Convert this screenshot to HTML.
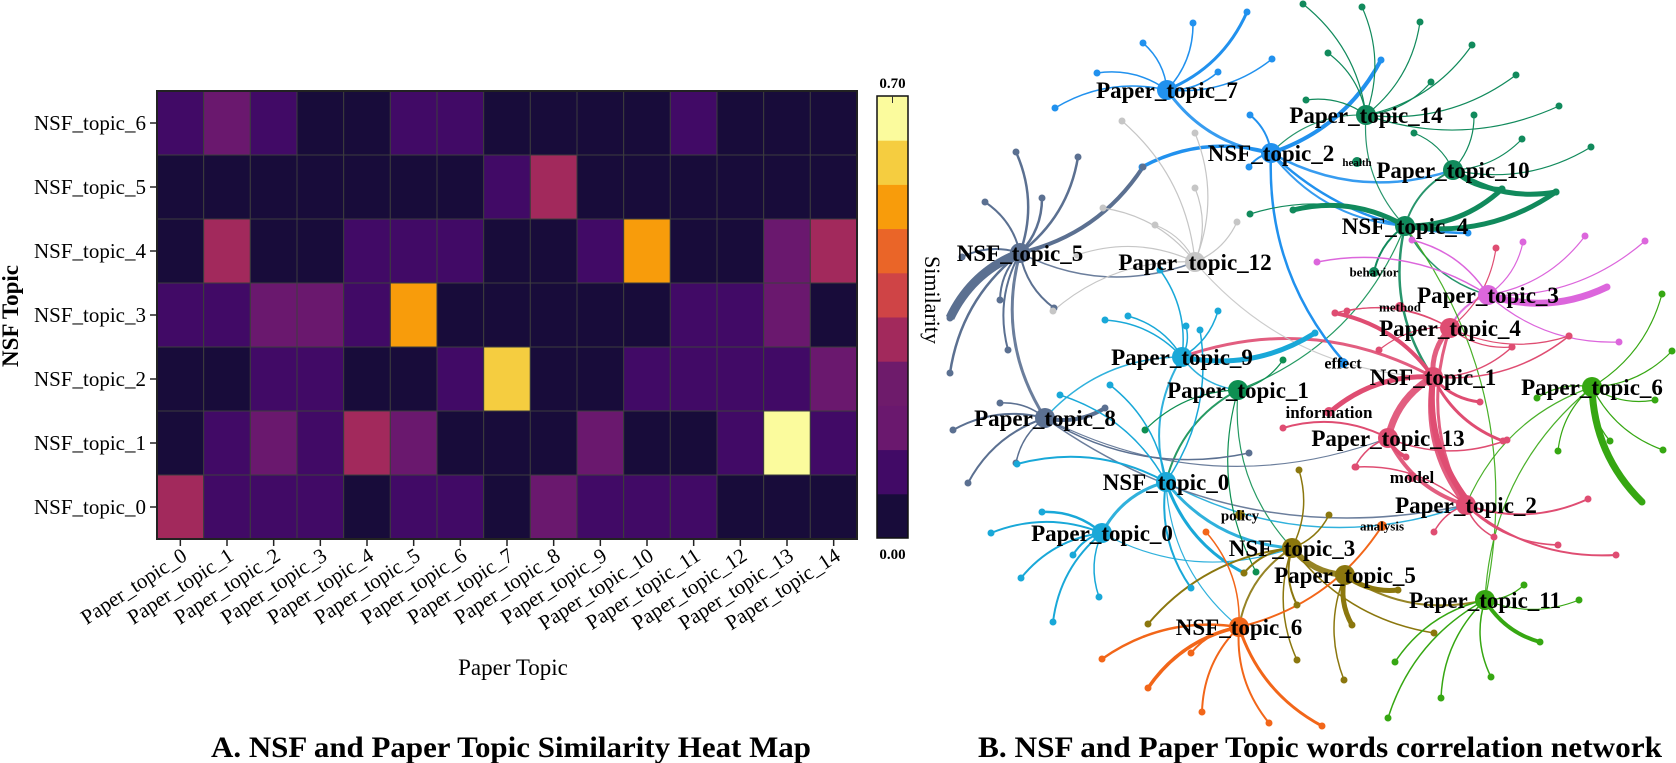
<!DOCTYPE html>
<html><head><meta charset="utf-8"><title>NSF and Paper Topic charts</title>
<style>
html,body{margin:0;padding:0;background:#fff;}
svg{display:block;font-family:"Liberation Serif","Times New Roman",serif;}
</style></head>
<body>
<svg id="fig" width="1676" height="763" viewBox="0 0 1676 763" xmlns="http://www.w3.org/2000/svg">
<g id="heat"></g>
<g id="net"></g>
<text x="511" y="757" text-anchor="middle" font-weight="bold" font-size="30" textLength="600" lengthAdjust="spacingAndGlyphs">A. NSF and Paper Topic Similarity Heat Map</text>
<text x="1320" y="757" text-anchor="middle" font-weight="bold" font-size="30" textLength="684" lengthAdjust="spacingAndGlyphs">B. NSF and Paper Topic words correlation network</text>
</svg>
<script>
// ---------- heatmap data ----------
const paperTopics = ["Paper_topic_0","Paper_topic_1","Paper_topic_2","Paper_topic_3","Paper_topic_4","Paper_topic_5","Paper_topic_6","Paper_topic_7","Paper_topic_8","Paper_topic_9","Paper_topic_10","Paper_topic_11","Paper_topic_12","Paper_topic_13","Paper_topic_14"];
const nsfTopics = ["NSF_topic_0","NSF_topic_1","NSF_topic_2","NSF_topic_3","NSF_topic_4","NSF_topic_5","NSF_topic_6"];
const simNSF0 = [0.32,0.11,0.11,0.11,0.03,0.11,0.11,0.03,0.20,0.11,0.11,0.11,0.03,0.03,0.03];
const simNSF1 = [0.03,0.11,0.20,0.11,0.32,0.20,0.03,0.03,0.03,0.20,0.03,0.03,0.11,0.67,0.11];
const simNSF2 = [0.03,0.03,0.11,0.11,0.03,0.03,0.11,0.60,0.03,0.03,0.11,0.11,0.11,0.11,0.20];
const simNSF3 = [0.11,0.11,0.20,0.20,0.11,0.53,0.03,0.03,0.03,0.03,0.03,0.11,0.11,0.20,0.03];
const simNSF4 = [0.03,0.32,0.03,0.03,0.11,0.11,0.11,0.03,0.03,0.11,0.53,0.03,0.03,0.20,0.32];
const simNSF5 = [0.03,0.03,0.03,0.03,0.03,0.03,0.03,0.11,0.32,0.03,0.03,0.03,0.03,0.03,0.03];
const simNSF6 = [0.11,0.20,0.11,0.03,0.03,0.11,0.11,0.03,0.03,0.03,0.03,0.11,0.03,0.03,0.03];
const simRows = [simNSF0,simNSF1,simNSF2,simNSF3,simNSF4,simNSF5,simNSF6];
const cbarTicks = ["0.00","0.70"];

// ---------- network data ----------
const hubNames = ["Paper_topic_7","NSF_topic_2","Paper_topic_14","Paper_topic_10","NSF_topic_4","NSF_topic_5","Paper_topic_12","Paper_topic_3","Paper_topic_4","Paper_topic_9","NSF_topic_1","Paper_topic_6","Paper_topic_1","Paper_topic_8","Paper_topic_13","NSF_topic_0","Paper_topic_2","Paper_topic_0","NSF_topic_3","Paper_topic_5","Paper_topic_11","NSF_topic_6"];
const hubX = [1167,1271,1366,1453,1405,1020,1195,1488,1450,1182,1433,1592,1238,1045,1388,1166,1466,1102,1292,1345,1485,1239];
const hubY = [90,153,115,170,226,253,262,295,328,357,377,387,390,418,438,482,505,533,548,575,600,627];
const hubGroup = [0,0,1,1,1,2,3,4,5,6,5,7,8,2,5,6,5,6,9,9,7,10];
const wordNames = ["health","behavior","method","effect","information","model","policy","analysis"];
const wordX = [1357,1374,1400,1343,1329,1412,1240,1382];
const wordY = [162,272,307,363,412,477,515,526];
const wordSize = [11,13,13,16,17,17,15,13];
const wordGroup = [1,1,5,0,5,5,9,10];
// leaves: hub index, end x, end y, width
const leafHub = [0,0,0,0,0,0,0, 1,1,1,1,1,1, 2,2,2,2,2,2,2,2,2, 3,3,3,3,3,3, 4,4,4,4,4, 5,5,5,5,5,5,5,5,5,5,5, 6,6,6,6,6,6,6,6, 7,7,7,7,7,7,7, 8,8,8,8,8,8, 10,10,10,10,10,10,10, 11,11,11,11,11,11,11,11, 9,9,9,9,9,9, 12,12,12, 13,13,13,13,13,13, 14,14,14,14, 15,15,15,15,15,15, 16,16,16,16,16,16, 17,17,17,17,17,17, 18,18,18,18,18,18,18, 19,19,19, 20,20,20,20,20,20,20, 21,21,21,21,21,21,21,21];
const leafX = [1247,1193,1143,1097,1055,1272,1218, 1381,1250,1249,1142,1468,1345, 1303,1362,1420,1328,1472,1431,1516,1559,1306, 1591,1522,1556,1502,1414,1474, 1293,1502,1556,1374,1250, 1016,1078,1042,985,962,950,950,1000,1008,1054,1143, 1122,1195,1103,1155,1195,1237,1077,1053, 1607,1645,1585,1619,1523,1317,1412, 1335,1512,1569,1379,1347,1496, 1480,1503,1335,1330,1467,1569,1512, 1662,1672,1655,1663,1610,1642,1537,1558, 1315,1218,1128,1186,1160,1105, 1256,1283,1145, 953,968,1016,1105,1000,1249, 1406,1283,1507,1355, 1244,1191,1017,1060,1110,1200, 1588,1616,1558,1494,1434,1356, 991,1021,1053,1099,1042,1073, 1148,1244,1297,1297,1329,1299,1434, 1398,1352,1344, 1540,1579,1524,1395,1388,1441,1491, 1102,1148,1202,1269,1322,1191,1206,1382];
const leafY = [12,23,43,73,108,59,72, 60,115,167,167,233,363, 4,7,22,53,45,82,75,106,100, 147,139,192,189,133,115, 210,189,192,272,214, 152,157,198,202,257,318,373,300,350,308,167, 121,133,208,225,188,222,255,311, 287,241,236,342,242,262,240, 313,347,336,350,311,248, 402,441,313,412,500,336,347, 294,351,400,450,441,502,398,451, 333,311,316,326,270,320, 572,360,430, 430,483,463,408,403,453, 457,428,440,467, 573,588,464,395,385,330, 499,555,545,537,532,467, 533,578,622,597,512,555, 624,573,605,660,515,470,633, 590,625,680, 642,600,585,662,718,698,677, 659,688,712,723,726,653,532,526];
const leafW = [3,1.5,1.5,1.5,1.5,1.5,1.5, 4,2,2,3.5,2.5,2.5, 1.2,1.2,1.2,1.2,1.2,1.2,1.2,1.2,1.2, 1.2,1.2,5,4,1.2,1.2, 5,5,5,2,1.2, 2.5,2.5,2.5,2,2,9,2.5,2,2,2,4, 1.2,1.2,1.2,1.2,1.2,1.2,1.2,1.2, 7,1.2,1.2,1.2,1.2,1.5,1.5, 1.2,1.2,1.2,1.2,1.2,1.2, 3,3,4,5,6,1.5,1.5, 1.2,1.2,1.2,1.2,1.2,7,1.2,1.2, 5,1.5,1.5,1.5,1.5,1.5, 1.2,1.2,1.2, 2,2,1.5,4,1.5,1.5, 4,2,1.5,1.5, 3,2,2,1.5,1.5,1.5, 2,2,1.5,1.5,1.5,1.5, 2,2,2,1.5,2.5,2, 2,2,2,1.5,1.5,1.5,1.5, 5,5,1.5, 4,1.2,1.2,1.5,1.5,1.5,1.5, 2.5,3.5,2,2,3,2,1.5,2];
// hub-to-hub links: source hub, target hub, width
const linkA = [0,1,1,2,3,5,5,9,9,9,12,12,12,15,15,15,13,18,18,19,8,10,10,14,8,7,4,11,11,20,10,6,4,13,15,17,2];
const linkB = [1,3,4,4,4,13,6,13,15,12,15,4,18,17,18,16,16,19,21,20,10,14,16,16,16,8,7,16,20,4,9,10,10,14,21,18,1];
const linkW = [3,2.5,2,1.2,2,3,1.5,1.5,2,1.5,2,1.2,1.2,3,3,1.5,1.5,6,2,2,5,7,5,4,3,2,1.5,1.2,1.2,1.2,3,1.2,2.5,1.2,1.2,1.2,1.2];

const groupColors = ["#2191ee","#118a5c","#5b7091","#c6c6c6","#dc66dc","#df4d72","#19a8d8","#36a712","#0e8f52","#8b770e","#f26619"];
const infernoBands = ["#180c3a","#410a66","#6a186e","#6e1b6b","#a2295c","#cf4446","#ea6528","#f89c0b","#f5cd40","#fbfb9d"];
const NS = "http://www.w3.org/2000/svg";
function mk(tag, attrs, parent){const e=document.createElementNS(NS,tag);for(const k in attrs)e.setAttribute(k,attrs[k]);parent.appendChild(e);return e;}

// ---------- heatmap ----------
const heat = document.getElementById('heat');
const hx0=157,hx1=857,hy0=91,hy1=539, vmax=0.70;
const colW=(hx1-hx0)/paperTopics.length, rowH=(hy1-hy0)/nsfTopics.length;
function xPos(i){return hx0+i*colW;}
function yPos(r){return hy1-(r+1)*rowH;}
function colorFor(v){let b=Math.floor(v/vmax*infernoBands.length);b=Math.max(0,Math.min(infernoBands.length-1,b));return infernoBands[b];}
simRows.forEach((row,r)=>{
  row.forEach((v,c)=>{
    const cell=mk('rect',{x:xPos(c),y:yPos(r),width:colW,height:rowH,fill:colorFor(v),stroke:'#3d3d3d','stroke-width':1},heat);
    
    
  });
});
const frame=mk('rect',{x:hx0,y:hy0,width:hx1-hx0,height:hy1-hy0,fill:'none',stroke:'#222','stroke-width':2},heat);


nsfTopics.forEach((n,r)=>{
  const cy=yPos(r)+rowH/2;
  const t=mk('line',{x1:hx0-7,x2:hx0,y1:cy,y2:cy,stroke:'#222','stroke-width':1.5},heat);
  
  
  const l=mk('text',{x:hx0-11,y:cy+7,'text-anchor':'end','font-size':21},heat);
  l.textContent=n;
  
  
});
paperTopics.forEach((p,c)=>{
  const cx=xPos(c)+colW/2;
  const t=mk('line',{x1:cx,x2:cx,y1:hy1,y2:hy1+7,stroke:'#222','stroke-width':1.5},heat);
  
  
  const l=mk('text',{x:0,y:0,'text-anchor':'end','font-size':21,transform:'translate('+(cx+8)+','+(hy1+20)+') rotate(-33)'},heat);
  l.textContent=p;
  
  
});
const yt=mk('text',{x:0,y:0,'text-anchor':'middle','font-size':23,'font-weight':'bold',transform:'translate(18,316) rotate(-90)'},heat);
yt.textContent='NSF Topic';


const xt=mk('text',{x:513,y:675,'text-anchor':'middle','font-size':23},heat);
xt.textContent='Paper Topic';


// colorbar
const cbx=877,cbw=31,cby0=96,cby1=538;
const bh=(cby1-cby0)/infernoBands.length;
infernoBands.forEach((col,i)=>{
  const b=mk('rect',{x:cbx,y:cby1-(i+1)*bh,width:cbw,height:bh+0.5,fill:col},heat);
  
  
});
const cbf=mk('rect',{x:cbx,y:cby0,width:cbw,height:cby1-cby0,fill:'none',stroke:'#111','stroke-width':1.5},heat);


mk('line',{x1:cbx+cbw/2,x2:cbx+cbw/2,y1:cby0,y2:cby0+7,stroke:'#333'},heat);
cbarTicks.forEach((t,i)=>{
  const y=i===0?cby1+21:cby0-8;
  const l=mk('text',{x:cbx+cbw/2,y:y,'text-anchor':'middle','font-size':15,'font-weight':'bold'},heat);
  l.textContent=t;
  
  
});
const st=mk('text',{x:0,y:0,'text-anchor':'middle','font-size':22,transform:'translate(925,300) rotate(90)'},heat);
st.textContent='Similarity';



// ---------- network ----------
const net=document.getElementById('net');
const gE=mk('g',{},net), gD=mk('g',{},net), gH=mk('g',{},net), gL=mk('g',{},net);
function curve(x1,y1,x2,y2,k){const mx=(x1+x2)/2,my=(y1+y2)/2,dx=x2-x1,dy=y2-y1;const cx=mx-dy*k,cy=my+dx*k;return 'M'+x1+','+y1+' Q'+cx+','+cy+' '+x2+','+y2;}
linkA.forEach((a,i)=>{
  const b=linkB[i];
  const p=mk('path',{d:curve(hubX[a],hubY[a],hubX[b],hubY[b],0.22),fill:'none',stroke:groupColors[hubGroup[a]],'stroke-width':linkW[i],'stroke-opacity':0.9},gE);
  
  
});
leafHub.forEach((h,i)=>{
  const col=groupColors[hubGroup[h]];
  const p=mk('path',{d:curve(hubX[h],hubY[h],leafX[i],leafY[i],0.2),fill:'none',stroke:col,'stroke-width':leafW[i]},gE);
  
  
  const d=mk('circle',{cx:leafX[i],cy:leafY[i],r:3.5,fill:col},gD);
  
  
});
wordNames.forEach((w,i)=>{
  const d=mk('circle',{cx:wordX[i],cy:wordY[i],r:5,fill:groupColors[wordGroup[i]]},gD);
  
  
  const l=mk('text',{x:wordX[i],y:wordY[i]+wordSize[i]*0.35,'text-anchor':'middle','font-size':wordSize[i],'font-weight':'bold'},gL);
  l.textContent=w;
  
  
});
hubNames.forEach((n,i)=>{
  const c=mk('circle',{cx:hubX[i],cy:hubY[i],r:10,fill:groupColors[hubGroup[i]]},gH);
  
  
  const l=mk('text',{x:hubX[i],y:hubY[i]+8,'text-anchor':'middle','font-size':23,'font-weight':'bold'},gL);
  l.textContent=n;
  
  
});
</script>
</body></html>
